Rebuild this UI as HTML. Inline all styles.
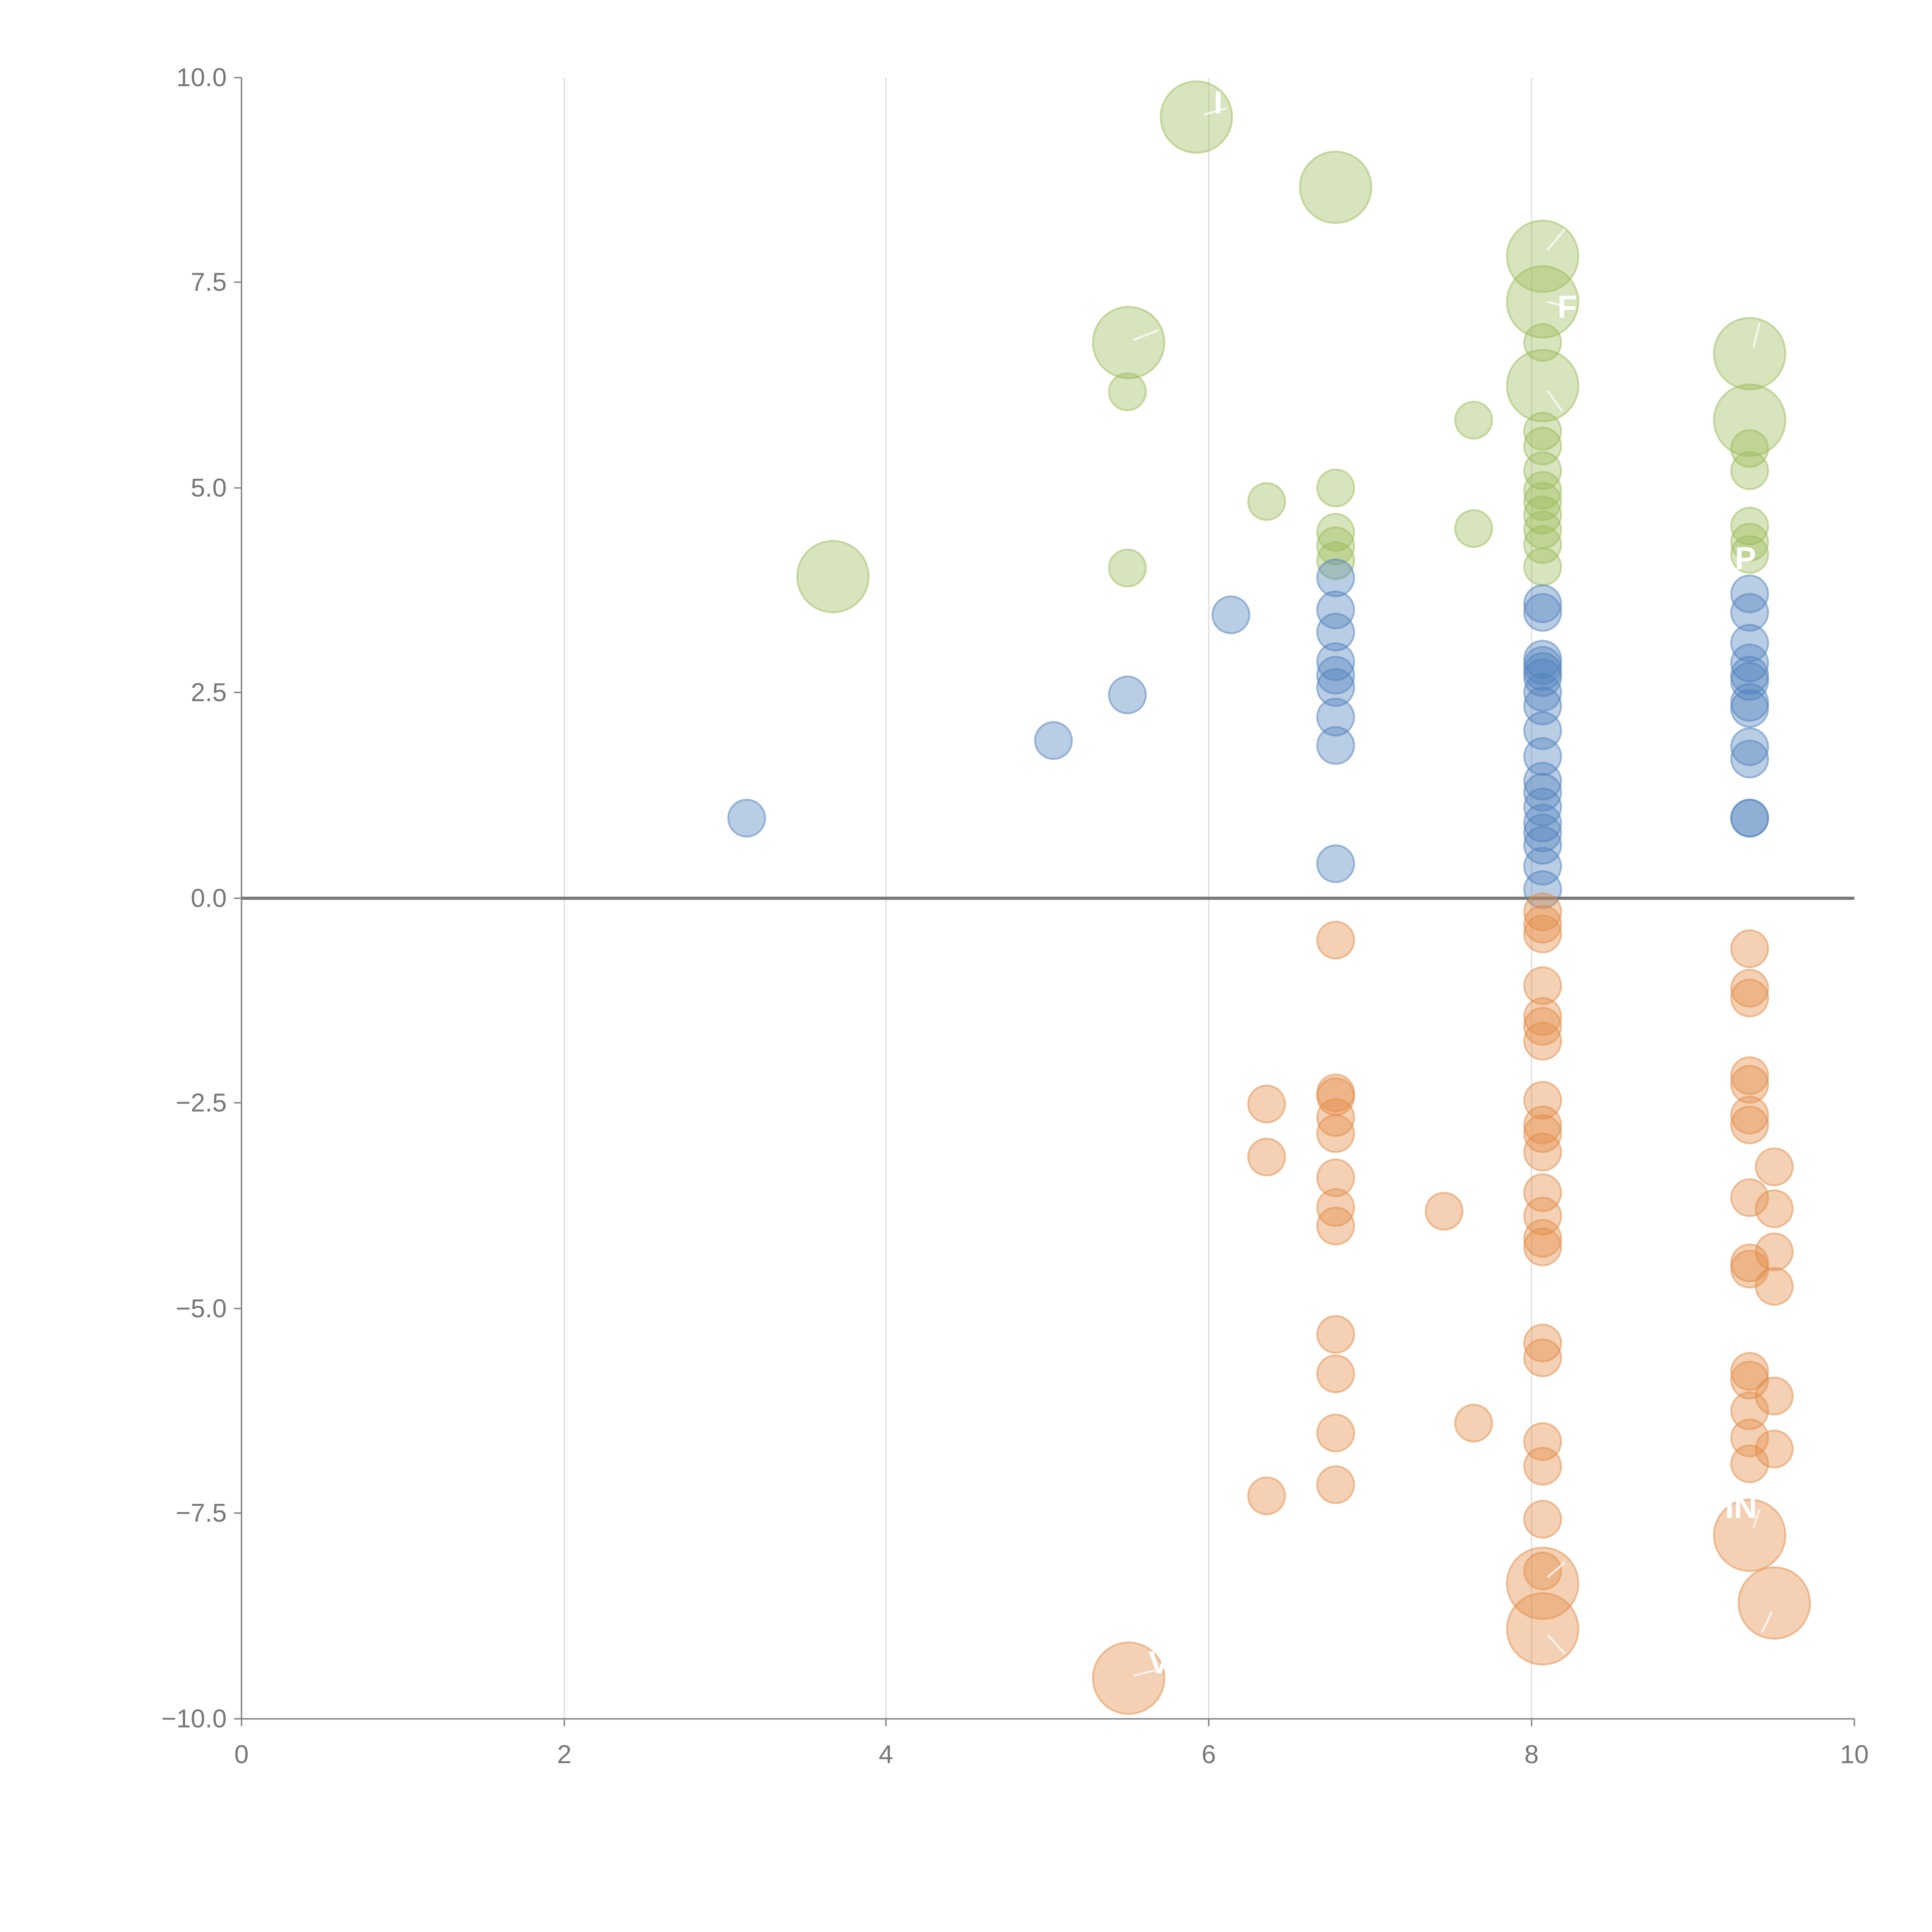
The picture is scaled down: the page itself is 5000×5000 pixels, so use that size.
<!DOCTYPE html>
<html><head><style>html,body{margin:0;padding:0;background:#fff}svg{display:block}</style></head><body>
<svg width="5000" height="5000" viewBox="0 0 1568 1568" xmlns="http://www.w3.org/2000/svg" font-family="Liberation Sans, sans-serif">
<rect width="1568" height="1568" fill="#fff"/>
<g stroke="#dcdcdc" stroke-width="1">
<line x1="458" y1="63" x2="458" y2="1395"/><line x1="719" y1="63" x2="719" y2="1395"/><line x1="981" y1="63" x2="981" y2="1395"/><line x1="1243" y1="63" x2="1243" y2="1395"/>
</g>
<g stroke="#888" stroke-width="1.2">
<line x1="196" y1="63" x2="196" y2="1395"/><line x1="196" y1="1395" x2="1505" y2="1395"/>
<line x1="190" y1="63" x2="196" y2="63"/><line x1="190" y1="229" x2="196" y2="229"/><line x1="190" y1="396" x2="196" y2="396"/><line x1="190" y1="562" x2="196" y2="562"/><line x1="190" y1="729" x2="196" y2="729"/><line x1="190" y1="895" x2="196" y2="895"/><line x1="190" y1="1062" x2="196" y2="1062"/><line x1="190" y1="1228" x2="196" y2="1228"/><line x1="190" y1="1395" x2="196" y2="1395"/>
<line x1="196" y1="1395" x2="196" y2="1401"/><line x1="458" y1="1395" x2="458" y2="1401"/><line x1="719" y1="1395" x2="719" y2="1401"/><line x1="981" y1="1395" x2="981" y2="1401"/><line x1="1243" y1="1395" x2="1243" y2="1401"/><line x1="1505" y1="1395" x2="1505" y2="1401"/>
</g>
<g fill="#777" font-size="21" text-anchor="end">
<text x="184" y="70">10.0</text><text x="184" y="236">7.5</text><text x="184" y="403">5.0</text><text x="184" y="569">2.5</text><text x="184" y="736">0.0</text><text x="184" y="902">−2.5</text><text x="184" y="1069">−5.0</text><text x="184" y="1235">−7.5</text><text x="184" y="1402">−10.0</text>
</g>
<g fill="#777" font-size="21" text-anchor="middle">
<text x="196" y="1431">0</text><text x="458" y="1431">2</text><text x="719" y="1431">4</text><text x="981" y="1431">6</text><text x="1243" y="1431">8</text><text x="1505" y="1431">10</text>
</g>
<g fill="rgba(155,187,89,0.4)" stroke="rgba(155,187,89,0.5)" stroke-width="1.5">
<circle cx="971" cy="95" r="29"/><circle cx="1084" cy="152" r="29"/><circle cx="1252" cy="208" r="29"/><circle cx="1252" cy="245" r="29"/><circle cx="916" cy="278" r="29"/><circle cx="1252" cy="313" r="29"/><circle cx="1420" cy="287" r="29"/><circle cx="1420" cy="341" r="29"/><circle cx="676" cy="468" r="29"/>
<circle cx="915" cy="318" r="15"/><circle cx="1196" cy="341" r="15"/><circle cx="1028" cy="407" r="15"/><circle cx="1084" cy="396" r="15"/><circle cx="915" cy="461" r="15"/><circle cx="1196" cy="429" r="15"/><circle cx="1084" cy="432" r="15"/><circle cx="1084" cy="443" r="15"/><circle cx="1084" cy="455" r="15"/>
<circle cx="1252" cy="278" r="15"/><circle cx="1252" cy="350" r="15"/><circle cx="1252" cy="362" r="15"/><circle cx="1252" cy="382" r="15"/><circle cx="1252" cy="398" r="15"/><circle cx="1252" cy="407" r="15"/><circle cx="1252" cy="418" r="15"/><circle cx="1252" cy="430" r="15"/><circle cx="1252" cy="442" r="15"/><circle cx="1252" cy="460" r="15"/>
<circle cx="1420" cy="364" r="15"/><circle cx="1420" cy="382" r="15"/><circle cx="1420" cy="427" r="15"/><circle cx="1420" cy="440" r="15"/><circle cx="1420" cy="450" r="15"/>
</g>
<g fill="rgba(79,129,189,0.4)" stroke="rgba(79,129,189,0.5)" stroke-width="1.5">
<circle cx="606" cy="664" r="15"/><circle cx="855" cy="601" r="15"/><circle cx="915" cy="564" r="15"/><circle cx="999" cy="499" r="15"/><circle cx="1084" cy="469" r="15"/><circle cx="1084" cy="495" r="15"/><circle cx="1084" cy="513" r="15"/><circle cx="1084" cy="537" r="15"/><circle cx="1084" cy="548" r="15"/><circle cx="1084" cy="558" r="15"/><circle cx="1084" cy="582" r="15"/><circle cx="1084" cy="605" r="15"/><circle cx="1084" cy="701" r="15"/>
<circle cx="1252" cy="490" r="15"/><circle cx="1252" cy="497" r="15"/><circle cx="1252" cy="535" r="15"/><circle cx="1252" cy="540" r="15"/><circle cx="1252" cy="545" r="15"/><circle cx="1252" cy="550" r="15"/><circle cx="1252" cy="562" r="15"/><circle cx="1252" cy="573" r="15"/><circle cx="1252" cy="593" r="15"/><circle cx="1252" cy="614" r="15"/><circle cx="1252" cy="634" r="15"/><circle cx="1252" cy="643" r="15"/><circle cx="1252" cy="655" r="15"/><circle cx="1252" cy="668" r="15"/><circle cx="1252" cy="676" r="15"/><circle cx="1252" cy="686" r="15"/><circle cx="1252" cy="703" r="15"/><circle cx="1252" cy="722" r="15"/>
<circle cx="1420" cy="482" r="15"/><circle cx="1420" cy="497" r="15"/><circle cx="1420" cy="522" r="15"/><circle cx="1420" cy="538" r="15"/><circle cx="1420" cy="548" r="15"/><circle cx="1420" cy="553" r="15"/><circle cx="1420" cy="570" r="15"/><circle cx="1420" cy="575" r="15"/><circle cx="1420" cy="606" r="15"/><circle cx="1420" cy="616" r="15"/><circle cx="1420" cy="664" r="15"/><circle cx="1420" cy="664" r="15"/>
</g>
<line x1="196" y1="729" x2="1505" y2="729" stroke="#777" stroke-width="2.5"/>
<g fill="rgba(227,139,70,0.4)" stroke="rgba(227,139,70,0.5)" stroke-width="1.5">
<circle cx="1084" cy="763" r="15"/><circle cx="1028" cy="896" r="15"/><circle cx="1028" cy="939" r="15"/><circle cx="1084" cy="887" r="15"/><circle cx="1084" cy="890" r="15"/><circle cx="1084" cy="907" r="15"/><circle cx="1084" cy="920" r="15"/><circle cx="1084" cy="956" r="15"/><circle cx="1084" cy="980" r="15"/><circle cx="1084" cy="995" r="15"/><circle cx="1084" cy="1083" r="15"/><circle cx="1084" cy="1115" r="15"/><circle cx="1084" cy="1163" r="15"/><circle cx="1084" cy="1205" r="15"/><circle cx="1028" cy="1214" r="15"/><circle cx="1172" cy="983" r="15"/><circle cx="1196" cy="1155" r="15"/>
<circle cx="1252" cy="740" r="15"/><circle cx="1252" cy="750" r="15"/><circle cx="1252" cy="758" r="15"/><circle cx="1252" cy="800" r="15"/><circle cx="1252" cy="825" r="15"/><circle cx="1252" cy="833" r="15"/><circle cx="1252" cy="845" r="15"/><circle cx="1252" cy="893" r="15"/><circle cx="1252" cy="913" r="15"/><circle cx="1252" cy="920" r="15"/><circle cx="1252" cy="935" r="15"/><circle cx="1252" cy="968" r="15"/><circle cx="1252" cy="987" r="15"/><circle cx="1252" cy="1005" r="15"/><circle cx="1252" cy="1012" r="15"/><circle cx="1252" cy="1090" r="15"/><circle cx="1252" cy="1102" r="15"/><circle cx="1252" cy="1170" r="15"/><circle cx="1252" cy="1190" r="15"/><circle cx="1252" cy="1233" r="15"/><circle cx="1252" cy="1275" r="15"/>
<circle cx="1420" cy="770" r="15"/><circle cx="1420" cy="802" r="15"/><circle cx="1420" cy="810" r="15"/><circle cx="1420" cy="873" r="15"/><circle cx="1420" cy="880" r="15"/><circle cx="1420" cy="905" r="15"/><circle cx="1420" cy="913" r="15"/><circle cx="1420" cy="972" r="15"/><circle cx="1420" cy="1025" r="15"/><circle cx="1420" cy="1030" r="15"/><circle cx="1420" cy="1113" r="15"/><circle cx="1420" cy="1120" r="15"/><circle cx="1420" cy="1145" r="15"/><circle cx="1420" cy="1167" r="15"/><circle cx="1420" cy="1188" r="15"/>
<circle cx="1440" cy="947" r="15"/><circle cx="1440" cy="981" r="15"/><circle cx="1440" cy="1016" r="15"/><circle cx="1440" cy="1044" r="15"/><circle cx="1440" cy="1133" r="15"/><circle cx="1440" cy="1176" r="15"/>
<circle cx="916" cy="1362" r="29"/><circle cx="1252" cy="1285" r="29"/><circle cx="1252" cy="1322" r="29"/><circle cx="1420" cy="1246" r="29"/><circle cx="1440" cy="1301" r="29"/>
</g>
<g stroke="#fff" stroke-width="1.5" opacity="0.8">
<line x1="977" y1="93" x2="995" y2="88"/><line x1="920" y1="276" x2="940" y2="268"/><line x1="1256" y1="203" x2="1270" y2="186"/><line x1="1256" y1="245" x2="1268" y2="248"/><line x1="1256" y1="317" x2="1268" y2="334"/><line x1="1423" y1="282" x2="1428" y2="262"/><line x1="1256" y1="1280" x2="1270" y2="1268"/><line x1="1256" y1="1327" x2="1270" y2="1342"/><line x1="1423" y1="1240" x2="1428" y2="1225"/><line x1="1430" y1="1325" x2="1438" y2="1308"/><line x1="920" y1="1360" x2="940" y2="1355"/>
</g>
<g fill="#fff" font-size="26" font-weight="bold">
<text x="985" y="92">I</text><text x="1264" y="258">F</text><text x="1408" y="462">P</text><text x="1400" y="1232">IN</text><text x="932" y="1358">V</text>
</g>
</svg>
</body></html>
